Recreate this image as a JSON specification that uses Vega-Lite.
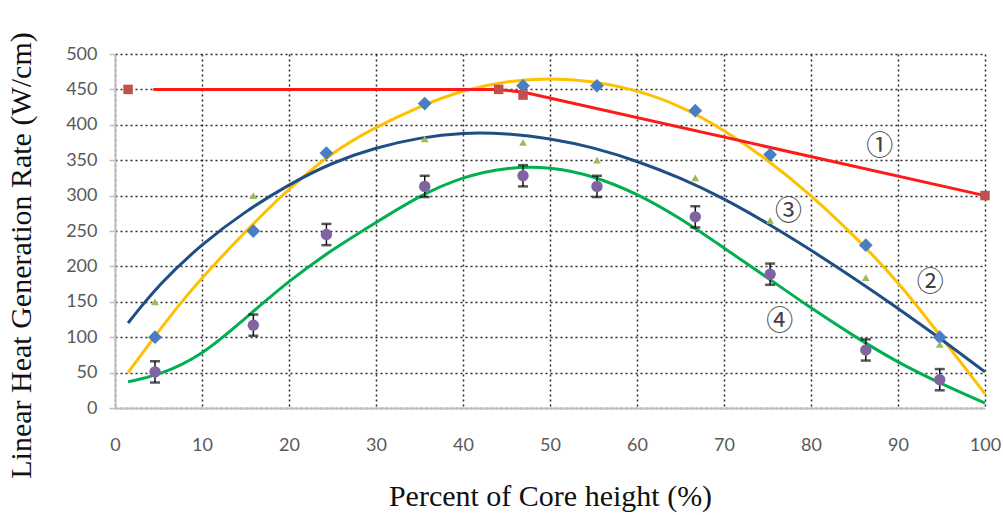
{
  "$schema": "https://vega.github.io/schema/vega-lite/v6.json",
  "width": 870,
  "height": 354,
  "autosize": {"type": "none"},
  "padding": {"left": 115, "top": 54, "right": 18, "bottom": 107},
  "background": "white",
  "config": {
    "view": {"stroke": null},
    "axis": {
      "labelFont": "Lato",
      "labelFontSize": 18,
      "labelColor": "#595959",
      "labelOverlap": false,
      "labelFlush": false,
      "ticks": false,
      "domainColor": "#BFBFBF",
      "domainWidth": 2,
      "grid": true,
      "gridColor": "#2a2a2a",
      "gridDash": [2, 3],
      "gridWidth": 1.5,
      "titleFont": "Liberation Serif",
      "titleFontSize": 30,
      "titleFontWeight": "normal",
      "titleColor": "#111111"
    }
  },
  "encoding": {
    "x": {"field": "x", "type": "quantitative", "scale": {"domain": [0, 100], "nice": false},
          "axis": {"values": [0, 10, 20, 30, 40, 50, 60, 70, 80, 90, 100], "labelPadding": 28, "title": "Percent of Core height (%)", "titlePadding": 27}},
    "y": {"field": "y", "type": "quantitative", "scale": {"domain": [0, 500], "nice": false},
          "axis": {"values": [0, 50, 100, 150, 200, 250, 300, 350, 400, 450, 500], "ticks": true, "tickSize": 6, "tickColor": "#BFBFBF", "tickWidth": 1.5,
                   "labelPadding": 12, "title": "Linear Heat Generation Rate (W/cm)", "titlePadding": 29, "titleY": 201}}
  },
  "datasets": {
    "redline": [
      {"x": 4.4, "y": 450}, {"x": 44, "y": 450}, {"x": 47, "y": 446}, {"x": 100, "y": 300}
    ],
    "curves": [
      {"s": "yellow", "x": 1.5, "y": 50}, {"s": "yellow", "x": 4.5, "y": 100}, {"s": "yellow", "x": 7.5, "y": 148}, {"s": "yellow", "x": 10, "y": 184},
      {"s": "yellow", "x": 15, "y": 250}, {"s": "yellow", "x": 20, "y": 310}, {"s": "yellow", "x": 25, "y": 362}, {"s": "yellow", "x": 30, "y": 397},
      {"s": "yellow", "x": 35, "y": 426}, {"s": "yellow", "x": 40, "y": 449}, {"s": "yellow", "x": 45, "y": 462}, {"s": "yellow", "x": 50, "y": 466},
      {"s": "yellow", "x": 55, "y": 462}, {"s": "yellow", "x": 60, "y": 449}, {"s": "yellow", "x": 65, "y": 427}, {"s": "yellow", "x": 70, "y": 393},
      {"s": "yellow", "x": 75, "y": 351}, {"s": "yellow", "x": 80, "y": 301}, {"s": "yellow", "x": 85, "y": 243}, {"s": "yellow", "x": 90, "y": 179},
      {"s": "yellow", "x": 95, "y": 100}, {"s": "yellow", "x": 100, "y": 20},
      {"s": "navy", "x": 1.5, "y": 120}, {"s": "navy", "x": 5, "y": 174}, {"s": "navy", "x": 10, "y": 232}, {"s": "navy", "x": 15, "y": 278},
      {"s": "navy", "x": 20, "y": 316}, {"s": "navy", "x": 25, "y": 347}, {"s": "navy", "x": 30, "y": 368}, {"s": "navy", "x": 35, "y": 382},
      {"s": "navy", "x": 40, "y": 389}, {"s": "navy", "x": 45, "y": 388}, {"s": "navy", "x": 50, "y": 381}, {"s": "navy", "x": 55, "y": 368},
      {"s": "navy", "x": 60, "y": 349}, {"s": "navy", "x": 65, "y": 325}, {"s": "navy", "x": 70, "y": 296}, {"s": "navy", "x": 75, "y": 261},
      {"s": "navy", "x": 80, "y": 223}, {"s": "navy", "x": 85, "y": 183}, {"s": "navy", "x": 90, "y": 141}, {"s": "navy", "x": 95, "y": 97},
      {"s": "navy", "x": 100, "y": 51},
      {"s": "green", "x": 1.5, "y": 37}, {"s": "green", "x": 5, "y": 46}, {"s": "green", "x": 10, "y": 74}, {"s": "green", "x": 15, "y": 127},
      {"s": "green", "x": 20, "y": 180}, {"s": "green", "x": 25, "y": 224}, {"s": "green", "x": 30, "y": 262}, {"s": "green", "x": 35, "y": 300},
      {"s": "green", "x": 40, "y": 327}, {"s": "green", "x": 45, "y": 340}, {"s": "green", "x": 50, "y": 341}, {"s": "green", "x": 55, "y": 328},
      {"s": "green", "x": 60, "y": 303}, {"s": "green", "x": 65, "y": 268}, {"s": "green", "x": 70, "y": 226}, {"s": "green", "x": 75, "y": 184},
      {"s": "green", "x": 80, "y": 141}, {"s": "green", "x": 85, "y": 101}, {"s": "green", "x": 90, "y": 64}, {"s": "green", "x": 95, "y": 34},
      {"s": "green", "x": 100, "y": 7}
    ],
    "diamonds": [
      {"x": 4.6, "y": 100}, {"x": 15.9, "y": 250}, {"x": 24.3, "y": 360}, {"x": 35.6, "y": 430}, {"x": 46.9, "y": 455},
      {"x": 55.4, "y": 455}, {"x": 66.7, "y": 420}, {"x": 75.3, "y": 358}, {"x": 86.3, "y": 230}, {"x": 94.8, "y": 100}
    ],
    "triangles": [
      {"x": 4.6, "y": 150}, {"x": 15.9, "y": 300}, {"x": 35.6, "y": 380}, {"x": 46.9, "y": 375}, {"x": 55.4, "y": 350},
      {"x": 66.7, "y": 325}, {"x": 75.3, "y": 265}, {"x": 86.3, "y": 184}, {"x": 94.8, "y": 90}
    ],
    "circles": [
      {"x": 4.6, "y": 51, "lo": 36, "hi": 66}, {"x": 15.9, "y": 117, "lo": 102, "hi": 132}, {"x": 24.3, "y": 245, "lo": 230, "hi": 260},
      {"x": 35.6, "y": 313, "lo": 298, "hi": 328}, {"x": 46.9, "y": 328, "lo": 313, "hi": 343}, {"x": 55.4, "y": 313, "lo": 298, "hi": 328},
      {"x": 66.7, "y": 270, "lo": 255, "hi": 285}, {"x": 75.3, "y": 189, "lo": 174, "hi": 204}, {"x": 86.3, "y": 82, "lo": 67, "hi": 97},
      {"x": 94.8, "y": 40, "lo": 25, "hi": 55}
    ],
    "squares": [
      {"x": 1.5, "y": 450}, {"x": 44.1, "y": 450}, {"x": 46.9, "y": 442}, {"x": 100, "y": 300}
    ],
    "labels": [
      {"x": 87.9, "y": 369, "t": "①"}, {"x": 93.7, "y": 176, "t": "②"}, {"x": 77.4, "y": 277, "t": "③"}, {"x": 76.4, "y": 121, "t": "④"}
    ]
  },
  "layer": [
    {
      "data": {"name": "curves"},
      "mark": {"type": "line", "interpolate": "basis", "strokeWidth": 3},
      "encoding": {
        "detail": {"field": "s"},
        "color": {"field": "s", "type": "nominal", "legend": null,
                  "scale": {"domain": ["yellow", "navy", "green"], "range": ["#FFC000", "#1F4E85", "#00B050"]}}
      }
    },
    {
      "data": {"name": "redline"},
      "mark": {"type": "line", "interpolate": "linear", "strokeWidth": 3, "color": "#FF1A1A"},
      "encoding": {}
    },
    {
      "data": {"name": "diamonds"},
      "mark": {"type": "point", "shape": "diamond", "filled": true, "size": 190, "color": "#4A7EC2", "opacity": 1}
    },
    {
      "data": {"name": "triangles"},
      "mark": {"type": "point", "shape": "triangle-up", "filled": true, "size": 60, "color": "#9BBB59", "opacity": 1}
    },
    {
      "data": {"name": "circles"},
      "mark": {"type": "errorbar", "ticks": {"color": "#111111", "size": 10, "thickness": 2.5}, "rule": {"color": "#111111", "strokeWidth": 1.5}},
      "encoding": {"y": {"field": "lo", "type": "quantitative"}, "y2": {"field": "hi"}}
    },
    {
      "data": {"name": "circles"},
      "mark": {"type": "point", "shape": "circle", "filled": true, "size": 130, "color": "#8064A2", "opacity": 1}
    },
    {
      "data": {"name": "squares"},
      "mark": {"type": "point", "shape": "square", "filled": true, "size": 90, "color": "#C0504D", "opacity": 1}
    },
    {
      "data": {"name": "labels"},
      "mark": {"type": "text", "font": "Noto Sans CJK JP", "fontSize": 27, "color": "#404040", "align": "center", "baseline": "middle"},
      "encoding": {"text": {"field": "t"}}
    }
  ]
}
